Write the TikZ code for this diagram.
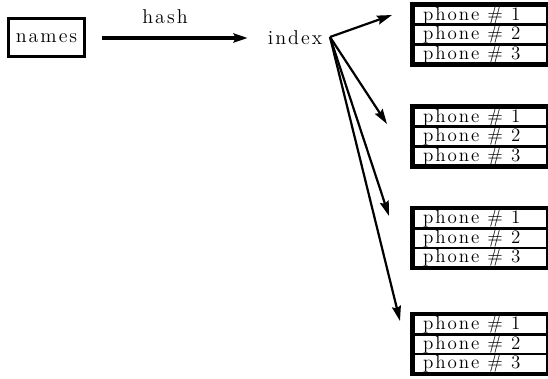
\documentclass[tikz,border=0pt]{standalone}
\usepackage{fontspec}
\setmainfont{lmroman12-regular.otf}[LetterSpace=10]
\usetikzlibrary{arrows.meta}
\newcommand\bigtext{\fontsize{20pt}{22pt}\selectfont}
\newcommand\rowfont{\fontsize{19pt}{21pt}\selectfont}
\tikzset{
  lbl/.style={inner sep=0pt, font=\bigtext},
  namebox/.style={draw, line width=3pt, minimum width=76pt, minimum height=38pt, inner sep=0pt, font=\bigtext},
  rowbox/.style={draw, line width=2.6pt, minimum width=134pt, minimum height=19.5pt, inner sep=0pt, anchor=north west},
  rowtext/.style={anchor=west, inner sep=0pt, font=\rowfont},
  framebox/.style={draw, line width=3.6pt},
  hasharrow/.style={line width=3.5pt, -{Stealth[length=14pt,width=9pt,inset=2pt]}},
  fanarrow/.style={line width=2.2pt, -{Stealth[length=15pt,width=9pt,inset=2pt]}}
}
\begin{document}
\begin{tikzpicture}[x=1pt,y=-1pt]
\useasboundingbox (0,0) rectangle (548,379);

% source box and hash step
\node[namebox] (names) at (46.5,38) {names};
\node[lbl] (index) at (295,38) {index};
\node[lbl] (hash) at (165,17) {hash};
\draw[hasharrow] ([xshift=16pt]names.east) -- ([xshift=-20pt]index.west);

% buckets of phone numbers
\foreach \g/\top in {1/4, 2/106, 3/207.5, 4/313.5} {
  \foreach \r in {1,2,3} {
    \node[rowbox] (g\g r\r) at (412,{\top+(\r-1)*19.5}) {};
    \node[rowtext] (t\g r\r) at ([xshift=11pt,yshift=-0.5pt]g\g r\r.west) {phone \# \r};
  }
  \draw[framebox] (g\g r1.north west) rectangle (g\g r3.south east);
}

% fan of pointers out of the index
\coordinate (fan) at (330,37);
\coordinate (p1) at (392,15);
\coordinate (p2) at (387,124);
\coordinate (p3) at (389,216);
\coordinate (p4) at (400,321);
\draw[fanarrow] (fan) -- (p1);
\draw[fanarrow] (fan) -- (p2);
\draw[fanarrow] (fan) -- (p3);
\draw[fanarrow] (fan) -- (p4);
\end{tikzpicture}
\end{document}
